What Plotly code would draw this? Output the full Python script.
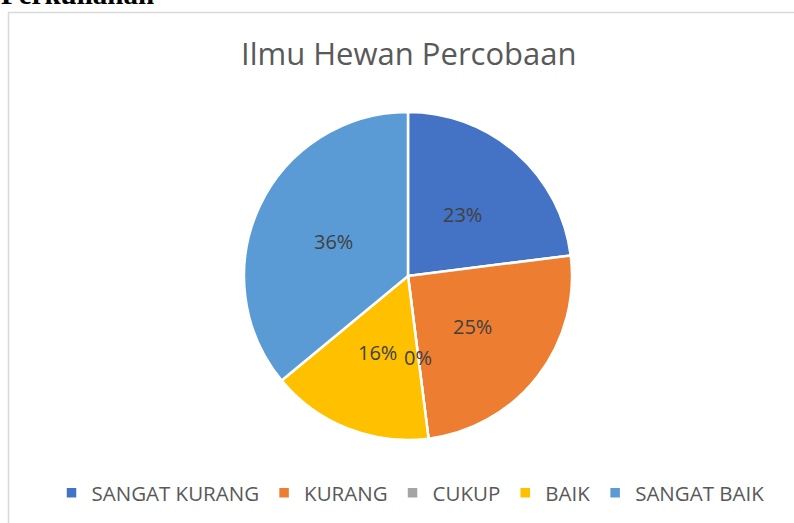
import math
import plotly.graph_objects as go

categories = ["SANGAT KURANG", "KURANG", "CUKUP", "BAIK", "SANGAT BAIK"]
values = [23, 25, 0, 16, 36]
colors = ["#4472C4", "#ED7D31", "#A5A5A5", "#FFC000", "#5B9BD5"]
title_text = "Ilmu Hewan Percobaan"
heading_text = "Perkuliahan"

W, H = 794, 523
cx, cy, R = 408, 276, 164  # pie centre/radius in pixels

dom_x = [(cx - R) / W, (cx + R) / W]
dom_y = [1 - (cy + R) / H, 1 - (cy - R) / H]

fig = go.Figure(go.Pie(
    labels=categories, values=values, sort=False, direction="clockwise",
    rotation=0, marker=dict(colors=colors, line=dict(color="white", width=2.5)),
    textinfo="none", hoverinfo="label+percent", domain=dict(x=dom_x, y=dom_y),
    showlegend=True,
))

# percent labels at half radius along the slice mid-angle (Excel-style)
total = sum(values)
cum = 0
annotations = []
for v in values:
    mid = (cum + v / 2) / total * 2 * math.pi
    cum += v
    px = cx + 0.5 * R * math.sin(mid)
    py = cy - 0.5 * R * math.cos(mid)
    annotations.append(dict(
        x=px / W, y=1 - py / H, xref="paper", yref="paper",
        xanchor="center", yanchor="middle",
        text=f"{round(v / total * 100)}%", showarrow=False,
        font=dict(family="Open Sans, sans-serif", size=20, color="#404040"),
    ))

annotations.append(dict(
    x=408 / W, y=1 - 53 / H, xref="paper", yref="paper", xanchor="center", yanchor="middle",
    text=title_text, showarrow=False,
    font=dict(family="Open Sans, sans-serif", size=31, color="#595959"),
))
annotations.append(dict(
    x=-1 / W, y=1 - 12 / H, xref="paper", yref="paper", xanchor="left", yanchor="bottom",
    text=f"<b>{heading_text}</b>", showarrow=False,
    font=dict(family="Liberation Serif, serif", size=29, color="#000000"),
))

fig.update_layout(
    width=W, height=H, margin=dict(l=0, r=0, t=0, b=0),
    paper_bgcolor="white", plot_bgcolor="white",
    annotations=annotations,
    shapes=[dict(type="rect", xref="paper", yref="paper",
                 x0=8.5 / W, x1=1.02, y0=-0.02, y1=1 - 12.5 / H,
                 line=dict(color="#D9D9D9", width=1.5))],
    legend=dict(orientation="h", xanchor="center", x=410.5 / W, yanchor="middle",
                y=1 - 493 / H, font=dict(family="Open Sans, sans-serif", size=20.5, color="#595959"),
                itemwidth=30, traceorder="normal"),
)

fig.write_html("out.html", config={"displayModeBar": False},
               post_script="document.body.style.margin='0';")
